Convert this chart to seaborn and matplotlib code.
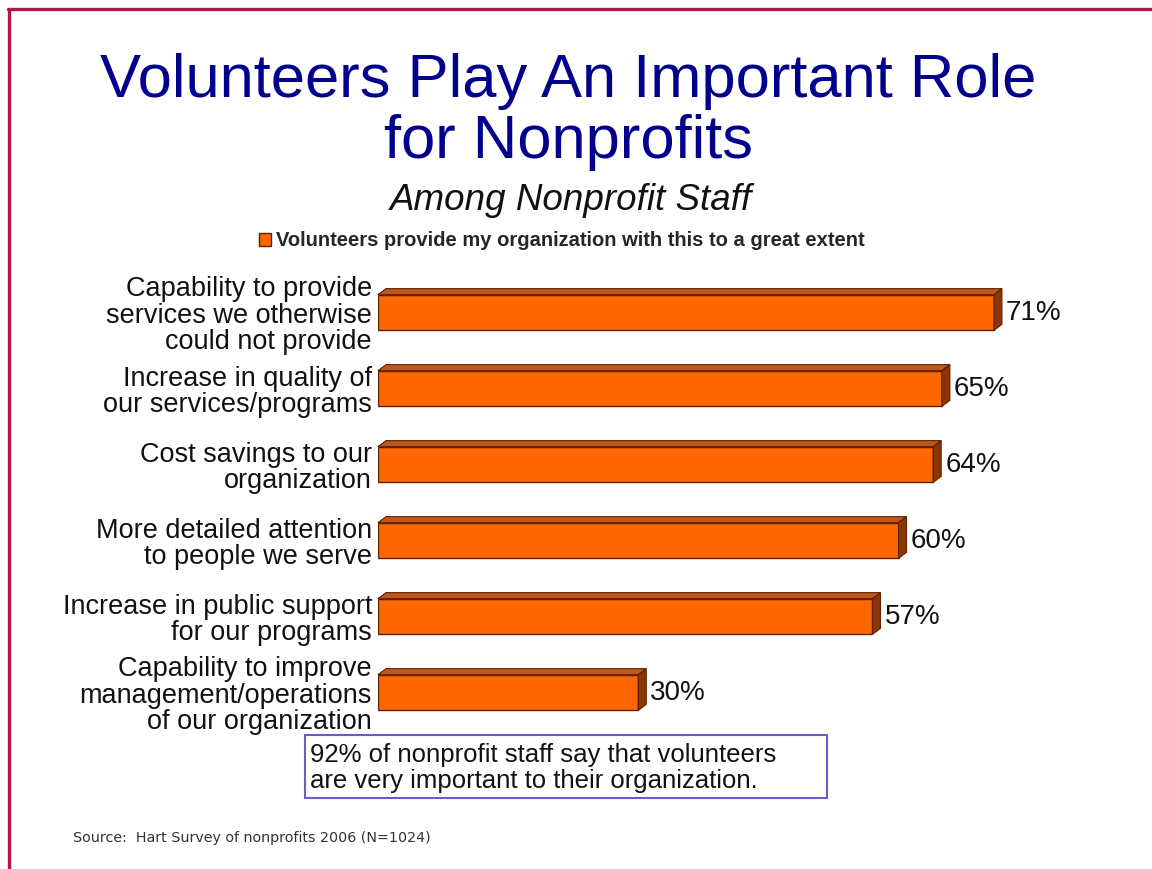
import matplotlib
matplotlib.use("Agg")
import matplotlib.pyplot as plt
import pandas as pd
import seaborn as sns
from matplotlib.patches import Polygon, Rectangle
from matplotlib.lines import Line2D

# ---- data -------------------------------------------------------------
items = [
    "Capability to provide\nservices we otherwise\ncould not provide",
    "Increase in quality of\nour services/programs",
    "Cost savings to our\norganization",
    "More detailed attention\nto people we serve",
    "Increase in public support\nfor our programs",
    "Capability to improve\nmanagement/operations\nof our organization",
]
pct = [71, 65, 64, 60, 57, 30]
series_name = "Volunteers provide my organization with this to a great extent"
title = "Volunteers Play An Important Role\nfor Nonprofits"
subtitle = "Among Nonprofit Staff"
note = "92% of nonprofit staff say that volunteers\nare very important to their organization."
source = "Source:  Hart Survey of nonprofits 2006 (N=1024)"

# ---- style ------------------------------------------------------------
FRONT = "#ff6600"
TOP = "#c0581c"
SIDE = "#8a3608"
EDGE = "#5a2200"
NAVY = "#00008c"
FRAME = "#b3163f"

sns.set_theme(style="white")
plt.rcParams["font.family"] = ["Liberation Sans", "DejaVu Sans"]

W, H = 1152, 869
fig = plt.figure(figsize=(W / 100, H / 100), dpi=100)
fig.patch.set_facecolor("white")

# slide frame (top and left rules)
fig.add_artist(Line2D([8 / W, 1], [1 - 9 / H, 1 - 9 / H], color=FRAME, lw=2.4))
fig.add_artist(Line2D([9 / W, 9 / W], [0, 1 - 9 / H], color=FRAME, lw=2.4))

# ---- bars -------------------------------------------------------------
ax = fig.add_axes([378 / W, 1 - 730.5 / H, 694 / W, 456 / H])
ax.patch.set_alpha(0)
df = pd.DataFrame({"item": items, "pct": pct})
sns.barplot(data=df, x="pct", y="item", orient="h", color=FRONT, saturation=1,
            width=0.47, edgecolor=EDGE, linewidth=1.0, label=series_name, ax=ax)
ax.set_xlim(0, 80)
ax.set_ylim(5.5, -0.5)

# extruded top and side faces, offset in screen pixels
dx, dy = 8, 6
to_disp = ax.transData.transform
to_data = ax.transData.inverted().transform
for bar in list(ax.patches):
    x0, y0 = bar.get_x(), bar.get_y()
    (xa, ya), (xb, yb) = to_disp([(x0, y0), (x0 + bar.get_width(), y0 + bar.get_height())])
    left, right = min(xa, xb), max(xa, xb)
    bot, top = min(ya, yb), max(ya, yb)
    top_face = [(left, top), (right, top), (right + dx, top + dy), (left + dx, top + dy)]
    side_face = [(right, bot), (right, top), (right + dx, top + dy), (right + dx, bot + dy)]
    for pts, fc in ((top_face, TOP), (side_face, SIDE)):
        ax.add_patch(Polygon(to_data(pts), closed=True, facecolor=fc, edgecolor=EDGE,
                             lw=0.8, clip_on=False, zorder=bar.get_zorder()))

ax.bar_label(ax.containers[0], labels=[f"{v}%" for v in pct], padding=8.6,
             fontsize=20, color="#111111")

ax.set_xlabel("")
ax.set_ylabel("")
ax.set_xticks([])
ax.set_yticks(range(len(items)))
ax.set_yticklabels(items, fontsize=19.5, color="#111111", linespacing=1.02)
ax.tick_params(axis="y", length=0, pad=4.3)
sns.despine(ax=ax, left=True, bottom=True)

# legend
if ax.get_legend() is not None:
    ax.get_legend().remove()
handles, labels = ax.get_legend_handles_labels()
ax.legend(handles[:1], labels[:1], loc="center", bbox_to_anchor=(0.488, 1 - 241 / H),
          bbox_transform=fig.transFigure, frameon=False, handlelength=0.6,
          handleheight=0.6, handletextpad=0.25, borderaxespad=0,
          prop={"weight": "bold", "size": 14.5})

# ---- titles -----------------------------------------------------------
fig.text(568 / W, 1 - 53 / H, title, ha="center", va="top", fontsize=44.3,
         color=NAVY, linespacing=1.08)
fig.text(571 / W, 1 - 201 / H, subtitle, ha="center", va="center", fontsize=26.5,
         style="italic", color="#111111")

# ---- call-out box -----------------------------------------------------
fig.add_artist(Rectangle((305 / W, 1 - 798 / H), 522 / W, 63 / H,
                         transform=fig.transFigure, facecolor="white",
                         edgecolor="#6660c4", lw=1.5))
fig.text(310 / W, 1 - 768 / H, note, ha="left", va="center", fontsize=18.5,
         color="#111111", linespacing=1.06)

# ---- source -----------------------------------------------------------
fig.text(73 / W, 1 - 842 / H, source, ha="left", va="baseline", fontsize=10.3,
         color="#333333", family="DejaVu Sans")

fig.savefig("out.png", dpi=100, facecolor="white")
